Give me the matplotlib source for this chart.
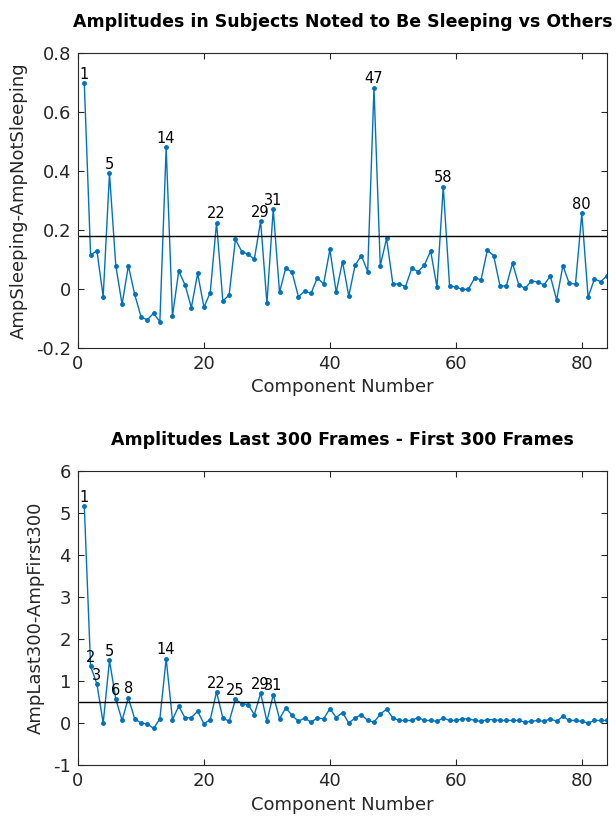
import numpy as np
import matplotlib
matplotlib.use('Agg')
import matplotlib.pyplot as plt

plt.rcParams['axes.unicode_minus'] = False

# component numbers 1..84
components = np.arange(1, 85)

# AmpSleeping - AmpNotSleeping
amp_sleep_diff = [
    0.697, 0.115, 0.130, -0.026, 0.392, 0.079, -0.052, 0.079, -0.018, -0.094,
    -0.105, -0.082, -0.111, 0.480, -0.092, 0.061, 0.014, -0.063, 0.053, -0.062,
    -0.012, 0.225, -0.041, -0.020, 0.168, 0.127, 0.118, 0.101, 0.230, -0.049,
    0.271, -0.011, 0.072, 0.056, -0.026, -0.007, -0.015, 0.038, 0.017, 0.134,
    -0.011, 0.093, -0.024, 0.081, 0.113, 0.059, 0.682, 0.079, 0.172, 0.017,
    0.017, 0.008, 0.070, 0.059, 0.081, 0.129, 0.006, 0.347, 0.011, 0.006,
    -0.001, -0.001, 0.038, 0.031, 0.132, 0.113, 0.011, 0.010, 0.087, 0.014,
    0.002, 0.028, 0.023, 0.014, 0.044, -0.037, 0.079, 0.019, 0.017, 0.256,
    -0.028, 0.034, 0.025, 0.045]
sleep_threshold = 0.18

# AmpLast300 - AmpFirst300
amp_last_first = [
    5.16, 1.35, 0.93, 0.00, 1.49, 0.57, 0.06, 0.60, 0.10, 0.00,
    -0.02, -0.13, 0.10, 1.53, 0.08, 0.40, 0.12, 0.13, 0.28, -0.02,
    0.08, 0.74, 0.12, 0.04, 0.56, 0.46, 0.44, 0.20, 0.71, 0.04,
    0.67, 0.10, 0.36, 0.18, 0.04, 0.12, 0.02, 0.12, 0.10, 0.34,
    0.13, 0.25, 0.00, 0.12, 0.20, 0.06, 0.02, 0.21, 0.33, 0.12,
    0.06, 0.06, 0.06, 0.13, 0.06, 0.06, 0.04, 0.12, 0.06, 0.06,
    0.10, 0.10, 0.06, 0.04, 0.08, 0.08, 0.06, 0.06, 0.06, 0.06,
    0.02, 0.04, 0.06, 0.04, 0.10, 0.04, 0.16, 0.06, 0.06, 0.04,
    0.00, 0.06, 0.06, 0.06]
frames_threshold = 0.5

W, H = 616, 817
fig = plt.figure(figsize=(W / 100, H / 100), dpi=100)

line_col = '#0072BD'
axis_col = '#262626'


def make_panel(rect, values, thresh, ylim, yticks, title, ylabel):
    l, t, r, b = rect
    ax = fig.add_axes([l / W, 1 - b / H, (r - l) / W, (b - t) / H])
    ax.plot(components, values, '-', color=line_col, lw=1.0,
            marker='.', markersize=5)
    ax.axhline(thresh, color='black', lw=1.0)
    for n, v in zip(components, values):
        if v > thresh:
            ax.annotate(str(n), (n, v), xytext=(0, 1.0), textcoords='offset points',
                        ha='center', va='bottom', fontsize=10.5, color='black')
    ax.set_xlim(0, 84)
    ax.set_ylim(*ylim)
    ax.set_xticks([0, 20, 40, 60, 80])
    ax.set_yticks(yticks)
    ax.tick_params(direction='in', top=True, right=True, length=4, pad=5,
                   labelsize=13, colors=axis_col, width=0.8)
    for s in ax.spines.values():
        s.set_color(axis_col)
        s.set_linewidth(0.8)
    ax.set_xlabel('Component Number', fontsize=13, color=axis_col, labelpad=4)
    ax.set_ylabel(ylabel, fontsize=13, color=axis_col, labelpad=6)
    ax.set_title(title, fontsize=12.5, fontweight='bold', pad=19)
    return ax


ax1 = make_panel((78, 53, 607, 348), amp_sleep_diff, sleep_threshold,
                 (-0.2, 0.8), [-0.2, 0, 0.2, 0.4, 0.6, 0.8],
                 'Amplitudes in Subjects Noted to Be Sleeping vs Others',
                 'AmpSleeping-AmpNotSleeping')
ax1.set_yticklabels(['-0.2', '0', '0.2', '0.4', '0.6', '0.8'])

ax2 = make_panel((78, 471, 607, 765), amp_last_first, frames_threshold,
                 (-1, 6), [-1, 0, 1, 2, 3, 4, 5, 6],
                 'Amplitudes Last 300 Frames - First 300 Frames',
                 'AmpLast300-AmpFirst300')

fig.savefig('out.png', dpi=100)
